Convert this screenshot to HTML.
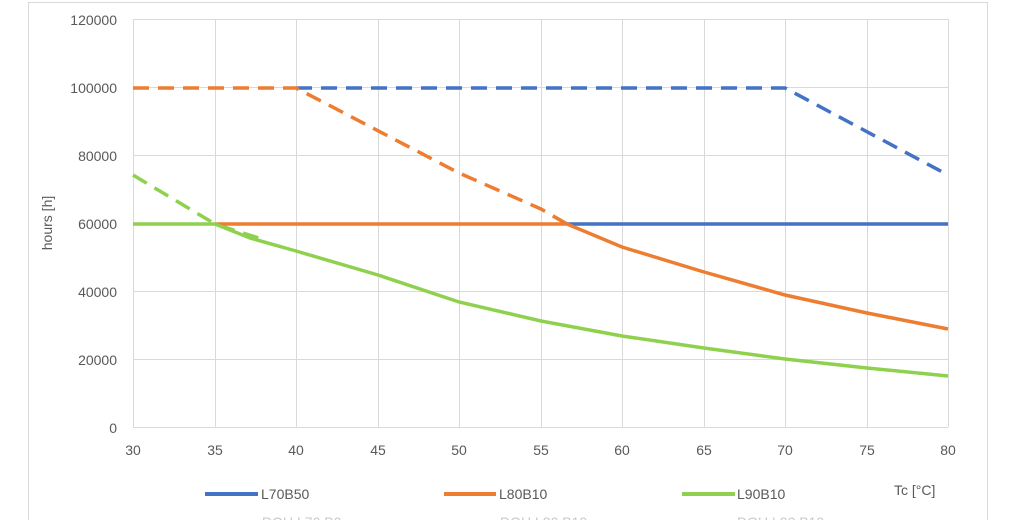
<!DOCTYPE html>
<html><head><meta charset="utf-8"><style>
body{margin:0;background:#fff;}
svg{display:block;font-family:"Liberation Sans",sans-serif;}
</style></head><body>
<svg width="1024" height="520" viewBox="0 0 1024 520">
<rect x="28.5" y="2.5" width="959" height="530" fill="#fff" stroke="#d9d9d9"/>
<g stroke="#d9d9d9" stroke-width="1">
<line x1="133" y1="19.5" x2="948" y2="19.5"/>
<line x1="133" y1="87.5" x2="948" y2="87.5"/>
<line x1="133" y1="155.5" x2="948" y2="155.5"/>
<line x1="133" y1="223.5" x2="948" y2="223.5"/>
<line x1="133" y1="291.5" x2="948" y2="291.5"/>
<line x1="133" y1="359.5" x2="948" y2="359.5"/>
<line x1="133" y1="427.5" x2="948" y2="427.5"/>
<line x1="133.5" y1="19" x2="133.5" y2="427"/>
<line x1="215.5" y1="19" x2="215.5" y2="427"/>
<line x1="296.5" y1="19" x2="296.5" y2="427"/>
<line x1="378.5" y1="19" x2="378.5" y2="427"/>
<line x1="459.5" y1="19" x2="459.5" y2="427"/>
<line x1="541.5" y1="19" x2="541.5" y2="427"/>
<line x1="622.5" y1="19" x2="622.5" y2="427"/>
<line x1="704.5" y1="19" x2="704.5" y2="427"/>
<line x1="785.5" y1="19" x2="785.5" y2="427"/>
<line x1="867.5" y1="19" x2="867.5" y2="427"/>
<line x1="948.5" y1="19" x2="948.5" y2="427"/>
</g>
<g fill="#595959" font-size="14" text-anchor="end">
<text x="117" y="25">120000</text><text x="117" y="93">100000</text><text x="117" y="161">80000</text>
<text x="117" y="229">60000</text><text x="117" y="297">40000</text><text x="117" y="365">20000</text><text x="117" y="433">0</text>
</g>
<g fill="#595959" font-size="14" text-anchor="middle">
<text x="133" y="455">30</text><text x="215" y="455">35</text><text x="296" y="455">40</text><text x="378" y="455">45</text>
<text x="459" y="455">50</text><text x="541" y="455">55</text><text x="622" y="455">60</text><text x="704" y="455">65</text>
<text x="785" y="455">70</text><text x="867" y="455">75</text><text x="948" y="455">80</text>
</g>
<text transform="translate(52,223) rotate(-90)" fill="#595959" font-size="14" text-anchor="middle">hours [h]</text>
<g fill="none" stroke-width="3.5">
<polyline stroke="#4472c4" stroke-dasharray="16,9" points="296,88 785,88 948,175"/>
<polyline stroke="#ed7d31" stroke-dasharray="16,9" points="133,88 296,88 459,173 541,209 567,224"/>
<polyline stroke="#8fd14f" stroke-dasharray="16,9" points="133,175 215,224 265,240"/>
<polyline stroke="#4472c4" points="567,224 948,224"/>
<polyline stroke="#ed7d31" points="215,224 567,224 622,247 704,272 785,295 867,313 948,329"/>
<polyline stroke="#8fd14f" points="133,224 215,224 250,238 296,251 378,275 459,302 541,321 622,336 704,348 785,359 867,368 948,376"/>
</g>
<g stroke-width="4">
<line x1="205" y1="494" x2="258" y2="494" stroke="#4472c4"/>
<line x1="444" y1="494" x2="496" y2="494" stroke="#ed7d31"/>
<line x1="682" y1="494" x2="735" y2="494" stroke="#8fd14f"/>
</g>
<g fill="#595959" font-size="14">
<text x="261" y="499">L70B50</text><text x="499" y="499">L80B10</text><text x="737" y="499">L90B10</text>
<text x="894" y="495">Tc [°C]</text>
</g>
<g fill="#c8c8c8" font-size="14">
<text x="262" y="527">DOU L70 B0</text><text x="500" y="527">DOU L80 B10</text><text x="737" y="527">DOU L90 B10</text>
</g>
</svg>
</body></html>
